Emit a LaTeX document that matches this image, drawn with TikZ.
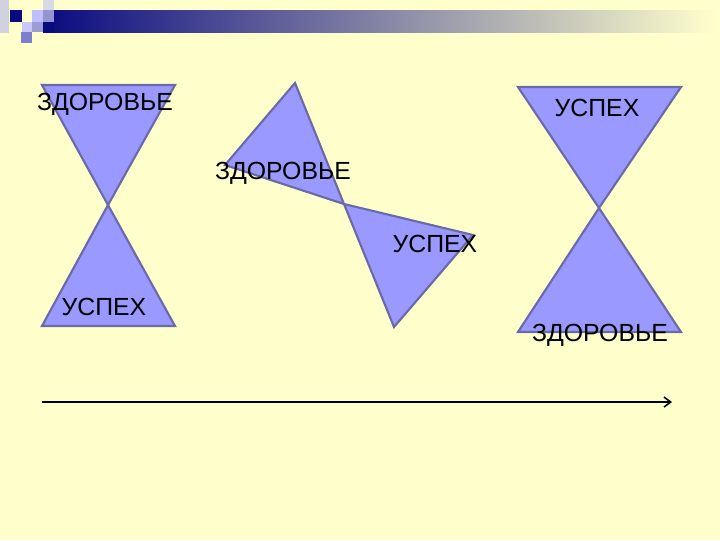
\documentclass[tikz,border=0pt]{standalone}
\usepackage{fontspec}
\setmainfont{Liberation Sans}
\usetikzlibrary{arrows.meta}
\definecolor{slidebg}{HTML}{FFFFCC}
\definecolor{slidenavy}{HTML}{0A0A80}
\definecolor{glassfill}{HTML}{9999FF}
\definecolor{glassedge}{HTML}{6A6AA8}
\tikzset{
    glass/.style = {fill=glassfill, draw=glassedge, line width=1.6pt, line join=miter},
    word/.style = {font=\fontsize{18.6}{20}\selectfont, inner sep=0pt, text=black},
    timeline/.style = {line width=0.8pt, -{Straight Barb[length=5pt, width=7.5pt, line width=1.2pt]}}
}

\begin{document}
\begin{tikzpicture}[x=0.75pt, y=-0.75pt]
        % slide background
        \fill[slidebg] (0, 0) rectangle (720, 540);
        \useasboundingbox (0, 0) rectangle (720, 540);
        % title bar fading out to the right
        \shade[left color=slidenavy, right color=slidebg] (43, 10) rectangle (716, 32);
        % pixel squares in the corner
        \foreach \x/\y/\w/\h/\c in {0/0/9/33/{blue!20!gray!30!white}, 10/10/12/12/slidenavy,
            32/10/11/12/{blue!25!white}, 43/0/11/10/{blue!20!gray!25!white}, 43/10/11/12/{blue!40!gray!60!white},
            22/22/10/10/{blue!22!white}, 32/22/11/10/{blue!40!gray!55!white}, 21/32/11/11/{blue!45!gray!70!white},
            43/22/11/10/slidenavy}{
            \fill[\c] (\x, \y) rectangle ++(\w, \h);
        }
        % left hourglass
        \coordinate (waist1) at (108, 205);
        \draw[glass] (42, 85) -- (175, 85) -- (waist1) -- cycle;
        \draw[glass] (waist1) -- (175, 326) -- (42, 326) -- cycle;
        % middle hourglass, tipped over
        \coordinate (waist2) at (344, 204);
        \draw[glass] (295, 83) -- (waist2) -- (225, 165) -- cycle;
        \draw[glass] (waist2) -- (473, 235) -- (394, 327) -- cycle;
        % right hourglass
        \coordinate (waist3) at (599, 208);
        \draw[glass] (518, 87) -- (681, 87) -- (waist3) -- cycle;
        \draw[glass] (waist3) -- (681, 332) -- (518, 332) -- cycle;
        % labels
        \node[word] (health1) at (105, 104) {ЗДОРОВЬЕ};
        \node[word] (success1) at (104, 307) {УСПЕХ};
        \node[word] (health2) at (283, 173) {ЗДОРОВЬЕ};
        \node[word] (success2) at (435, 244) {УСПЕХ};
        \node[word] (success3) at (597, 108) {УСПЕХ};
        \node[word] (health3) at (600, 335) {ЗДОРОВЬЕ};
        % time axis
        \coordinate (timestart) at (42, 402);
        \coordinate (timeend) at (672, 402);
        \draw[timeline] (timestart) -- (timeend);
    \end{tikzpicture}
\end{document}
